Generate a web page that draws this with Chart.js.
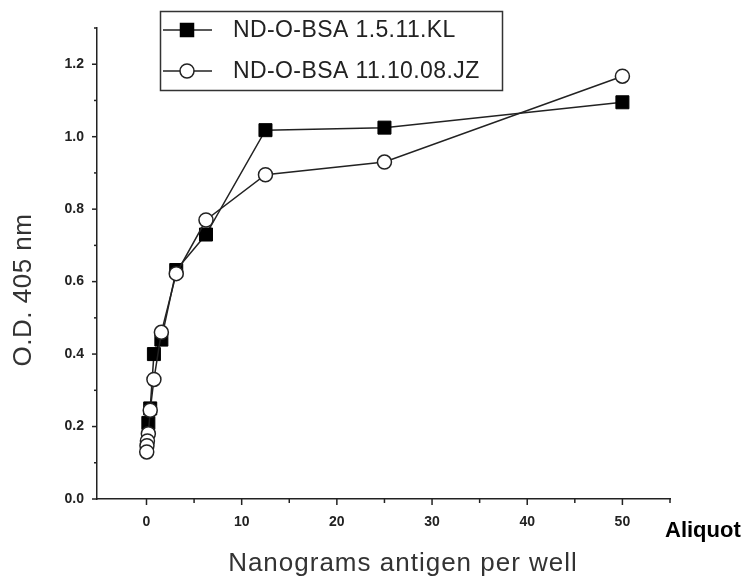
<!DOCTYPE html>
<html>
<head>
<meta charset="utf-8">
<script src="https://cdn.jsdelivr.net/npm/chart.js@4.4.1/dist/chart.umd.min.js"></script>
<style>
  html, body { margin: 0; padding: 0; background: #fff; }
  #wrap { position: relative; width: 747px; height: 578px; }
</style>
</head>
<body>
<div id="wrap"><canvas id="odChart" width="747" height="578"></canvas></div>
<script>
// data (ng antigen per well vs O.D. 405 nm)
let klDose = [50, 25, 12.5, 6.25, 3.125, 1.5625, 0.78, 0.39, 0.195];
let klOD = [1.095, 1.025, 1.018, 0.73, 0.632, 0.44, 0.40, 0.25, 0.21];

let jzDose = [50, 25, 12.5, 6.25, 3.125, 1.5625, 0.78, 0.39, 0.195, 0.098, 0.049, 0.024];
let jzOD = [1.167, 0.93, 0.895, 0.77, 0.622, 0.46, 0.33, 0.245, 0.18, 0.16, 0.147, 0.13];

let seriesNames = ["ND-O-BSA 1.5.11.KL", "ND-O-BSA 11.10.08.JZ"];
let xTitle = "Nanograms antigen per well";
let yTitle = "O.D. 405 nm";
let cornerNote = "Aliquot";

const INK = "#222";

function toPoints(xs, ys) {
    return xs.map((x, i) => ({ x: x, y: ys[i] }));
}

// ticks pointing outward, longer for labelled ones
const axisTicks = {
    id: "axisTicks",
    afterDraw(chart) {
        const c = chart.ctx;
        const xs = chart.scales.x, ys = chart.scales.y;
        c.save();
        c.strokeStyle = INK;
        c.lineWidth = 1.5;
        xs.ticks.forEach(t => {
            if (t.value < 0) return;
            const px = xs.getPixelForValue(t.value);
            const len = (Math.round(t.value) % 10 === 0) ? 6 : 4;
            c.beginPath();
            c.moveTo(px, xs.top);
            c.lineTo(px, xs.top + len);
            c.stroke();
        });
        ys.ticks.forEach(t => {
            const py = ys.getPixelForValue(t.value);
            const len = (Math.round(t.value * 10) % 2 === 0) ? 5 : 3;
            c.beginPath();
            c.moveTo(ys.right, py);
            c.lineTo(ys.right - len, py);
            c.stroke();
        });
        c.restore();
    }
};

// axis titles and the framed legend
const decorations = {
    id: "decorations",
    afterDraw(chart) {
        const c = chart.ctx;
        c.save();
        c.fillStyle = "#333";
        c.font = "26px 'Liberation Sans', Arial, sans-serif";
        c.textAlign = "center";
        c.textBaseline = "alphabetic";
        c.letterSpacing = "1px";
        c.fillText(xTitle, 403, 571);

        c.letterSpacing = "0.5px";
        c.save();
        c.translate(31, 290);
        c.rotate(-Math.PI / 2);
        c.fillText(yTitle, 0, 0);
        c.restore();

        c.letterSpacing = "0px";
        c.fillStyle = "#000";
        c.font = "bold 22px 'Liberation Sans', Arial, sans-serif";
        c.textAlign = "left";
        c.fillText(cornerNote, 665, 537);

        // legend box
        c.strokeStyle = "#333";
        c.lineWidth = 1.5;
        c.strokeRect(160.5, 11.5, 342, 79);
        const rows = [30, 71];
        chart.data.datasets.forEach((ds, i) => {
            const y = rows[ds.legendRow];
            c.strokeStyle = INK;
            c.lineWidth = 1.5;
            c.beginPath();
            c.moveTo(163, y);
            c.lineTo(212, y);
            c.stroke();
            c.fillStyle = ds.pointBackgroundColor;
            c.strokeStyle = ds.pointBorderColor;
            c.beginPath();
            if (ds.pointStyle === "rect") {
                c.rect(187 - 6.5, y - 6.5, 13, 13);
            } else {
                c.arc(187, y, 7, 0, Math.PI * 2);
            }
            c.fill();
            c.stroke();
            c.fillStyle = "#222";
            c.font = "23px 'Liberation Sans', Arial, sans-serif";
            c.letterSpacing = "0.4px";
            c.textBaseline = "middle";
            c.fillText(ds.label, 233, y + 1);
            c.letterSpacing = "0px";
        });
        c.restore();
    }
};

let ctx = document.getElementById("odChart").getContext("2d");
let odChart = new Chart(ctx, {
    type: "scatter",
    data: {
        datasets: [{
            label: seriesNames[1],
            legendRow: 1,
            data: toPoints(jzDose, jzOD),
            showLine: true,
            borderColor: INK,
            borderWidth: 1.5,
            pointStyle: "circle",
            pointRadius: 7,
            pointBackgroundColor: "#fff",
            pointBorderColor: INK,
            pointBorderWidth: 1.5,
            order: 0
        }, {
            label: seriesNames[0],
            legendRow: 0,
            data: toPoints(klDose, klOD),
            showLine: true,
            borderColor: INK,
            borderWidth: 1.5,
            pointStyle: "rect",
            pointRadius: 9.2,
            pointBackgroundColor: "#000",
            pointBorderColor: "#000",
            pointBorderWidth: 1,
            order: 1
        }]
    },
    options: {
        responsive: false,
        animation: false,
        layout: { padding: { left: 0, right: 77, top: 28, bottom: 0 } },
        plugins: { legend: { display: false }, tooltip: { enabled: false } },
        scales: {
            x: {
                type: "linear",
                min: -5.2,
                max: 55,
                afterFit(scale) { scale.height = 79; },
                grid: { display: false, drawTicks: false },
                border: { display: true, color: INK, width: 1.5 },
                ticks: {
                    stepSize: 5,
                    includeBounds: false,
                    autoSkip: false,
                    maxRotation: 0,
                    padding: 15,
                    color: "#222",
                    font: { family: "'Liberation Sans', Arial, sans-serif", size: 14, weight: "bold" },
                    callback: v => (Math.round(v) % 10 === 0 ? String(v) : "")
                }
            },
            y: {
                type: "linear",
                min: 0,
                max: 1.3,
                afterFit(scale) { scale.width = 97; },
                grid: { display: false, drawTicks: false },
                border: { display: true, color: INK, width: 1.5 },
                ticks: {
                    stepSize: 0.1,
                    autoSkip: false,
                    padding: 13,
                    color: "#222",
                    font: { family: "'Liberation Sans', Arial, sans-serif", size: 14, weight: "bold" },
                    callback: v => (Math.round(v * 10) % 2 === 0 ? v.toFixed(1) : "")
                }
            }
        }
    },
    plugins: [axisTicks, decorations]
});
</script>
</body>
</html>
